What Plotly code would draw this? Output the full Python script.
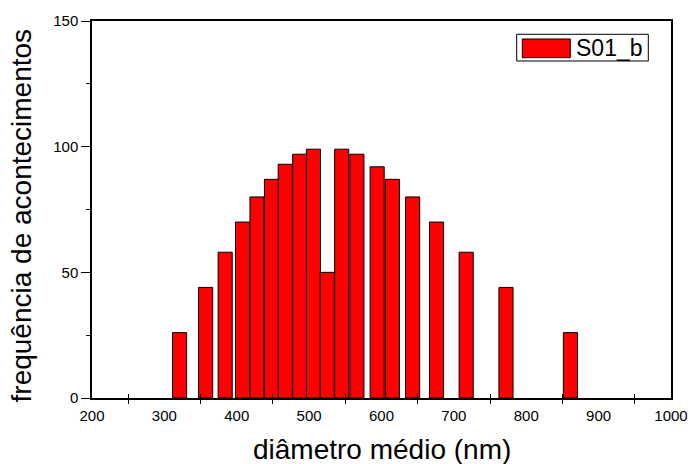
import plotly.graph_objects as go

# Histogram of mean particle diameter (sample S01_b)
diametro = [321, 357, 384, 408, 428, 448, 467, 487, 506, 525,
            545, 566, 594, 615, 643, 676, 717, 772, 861]
frequencia = [26, 44, 58, 70, 80, 87, 93, 97, 99, 50,
              99, 97, 92, 87, 80, 70, 58, 44, 26]
serie = "S01_b"

x_major = [200, 300, 400, 500, 600, 700, 800, 900, 1000]
x_minor = [250, 350, 450, 550, 650, 750, 850, 950]
y_major = [0, 50, 100, 150]

FONT = "Liberation Sans, Arial, Helvetica, sans-serif"

fig = go.Figure()
fig.add_trace(go.Bar(
    x=diametro, y=frequencia, width=19.5, name=serie,
    marker=dict(color="#ff0000", line=dict(color="#000000", width=1)),
    showlegend=False,
))
# empty trace so the overlay axis carrying the inner half of the minor ticks is drawn
fig.add_trace(go.Scatter(x=[], y=[], xaxis="x2", showlegend=False))

fig.update_layout(
    width=691, height=464,
    margin=dict(l=92, r=20, t=21, b=66),
    paper_bgcolor="white", plot_bgcolor="white",
    font=dict(family=FONT, color="black"),
    xaxis=dict(
        range=[200, 1000], tickvals=x_major, ticktext=[str(v) for v in x_major],
        ticks="outside", ticklen=3, tickcolor="rgba(0,0,0,0)",
        minor=dict(tickvals=x_minor, ticks="outside", ticklen=4, tickwidth=1.3, tickcolor="black"),
        showline=True, linecolor="black", linewidth=1.5, mirror=True,
        showgrid=False, zeroline=False, tickfont=dict(size=15), automargin=False,
    ),
    xaxis2=dict(
        range=[200, 1000], overlaying="x", anchor="y", side="bottom",
        tickvals=x_minor, ticks="inside", ticklen=4, tickwidth=1.3, tickcolor="black",
        showticklabels=False, showline=False, showgrid=False, zeroline=False,
        automargin=False,
    ),
    yaxis=dict(
        range=[0, 150], tickvals=y_major,
        ticks="outside", ticklen=9, tickwidth=1.3, tickcolor="black",
        minor=dict(dtick=25, ticks="outside", ticklen=4, tickwidth=1.3, tickcolor="black"),
        showline=True, linecolor="black", linewidth=1.5, mirror=True,
        showgrid=False, zeroline=False, tickfont=dict(size=15), automargin=False,
    ),
    annotations=[
        dict(text="diâmetro médio (nm)", xref="paper", yref="paper",
             x=0.5, y=-0.1353, xanchor="center", yanchor="middle",
             showarrow=False, font=dict(size=28)),
        dict(text="frequência de acontecimentos", xref="paper", yref="paper",
             x=-0.121, y=0.484, xanchor="center", yanchor="middle", textangle=-90,
             showarrow=False, font=dict(size=28)),
        dict(text=serie, xref="paper", yref="paper",
             x=0.832, y=0.9276, xanchor="left", yanchor="middle",
             showarrow=False, font=dict(size=23)),
    ],
    shapes=[
        # legend frame and swatch
        dict(type="rect", xref="paper", yref="paper",
             x0=0.7335, x1=0.9608, y0=0.8939, y1=0.9647,
             line=dict(color="black", width=1), fillcolor="white", layer="above"),
        dict(type="rect", xref="paper", yref="paper",
             x0=0.7432, x1=0.8261, y0=0.9027, y1=0.9523,
             line=dict(color="black", width=1), fillcolor="#ff0000", layer="above"),
    ],
)

fig.write_html("out.html")
